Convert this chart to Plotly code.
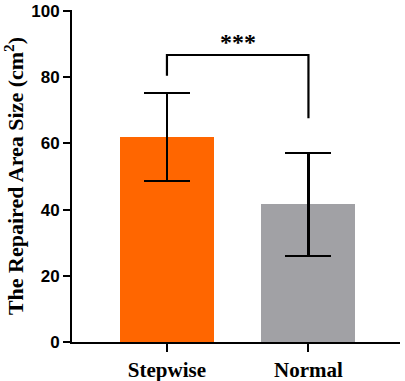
import plotly.graph_objects as go

categories = ["Stepwise", "Normal"]
means = [62.0, 41.6]
errors = [13.3, 15.5]
bar_colors = ["#FF6600", "#A1A1A5"]
y_ticks = [0, 20, 40, 60, 80, 100]
sig_label = "***"
bracket_left_bottom = 80.4
bracket_top = 86.7
bracket_right_bottom = 67.6

x_pos = list(range(len(categories)))

fig = go.Figure()
fig.add_trace(go.Bar(
    x=x_pos, y=means, width=0.664,
    marker=dict(color=bar_colors, line=dict(width=0)),
    error_y=dict(type="data", array=errors, visible=True, color="black", thickness=2.2, width=23),
    showlegend=False,
))

# significance bracket
fig.add_trace(go.Scatter(
    x=[x_pos[0], x_pos[0], x_pos[1], x_pos[1]],
    y=[bracket_left_bottom, bracket_top, bracket_top, bracket_right_bottom],
    mode="lines", line=dict(color="black", width=2.2), showlegend=False, hoverinfo="skip",
))
fig.add_annotation(
    x=(x_pos[0] + x_pos[1]) / 2, y=bracket_top, yshift=-2, text=sig_label, showarrow=False,
    xref="x", yref="y", yanchor="bottom",
    font=dict(family="Liberation Serif", size=24, color="black", weight="bold"),
)

fig.update_layout(
    width=405, height=381,
    margin=dict(l=72, r=5, t=10, b=39, autoexpand=False),
    plot_bgcolor="white", paper_bgcolor="white",
    bargap=0,
)
fig.update_xaxes(
    range=[-0.671, 1.647], tickvals=x_pos, ticktext=categories,
    showline=True, linecolor="black", linewidth=2,
    ticks="outside", ticklen=8, tickwidth=2, tickcolor="black",
    tickfont=dict(family="Liberation Serif", size=21, color="black", weight="bold"),
    showgrid=False, zeroline=False, automargin=False,
)
fig.update_yaxes(
    range=[0, 100.3], tickvals=y_ticks,
    showline=True, linecolor="black", linewidth=2,
    ticks="outside", ticklen=7, tickwidth=2, tickcolor="black",
    tickfont=dict(family="Liberation Sans", size=17, color="black", weight="bold"),
    showgrid=False, zeroline=False, automargin=False,
    title=dict(text="The Repaired Area Size (cm<sup>2</sup>)", standoff=4,
               font=dict(family="Liberation Serif", size=22, color="black", weight="bold")),
)

# remove the default page margin so the figure sits at the window's top-left corner
fig.write_html("out.html", config={"displayModeBar": False},
               post_script="document.body.style.margin='0px';")
